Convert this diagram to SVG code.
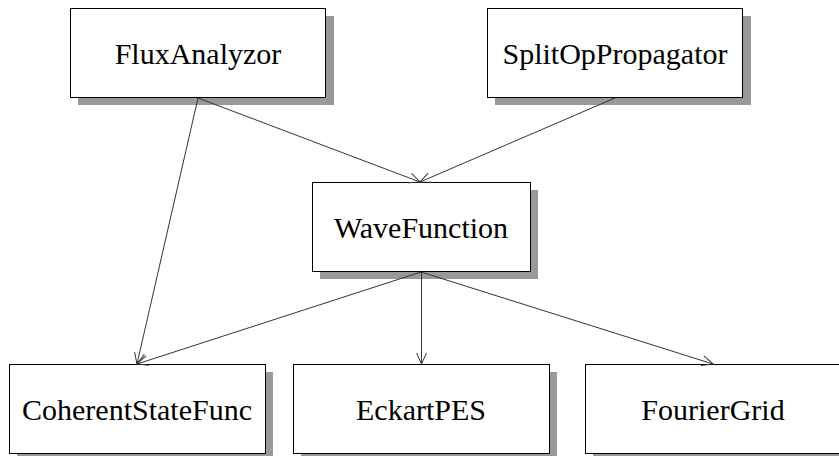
<svg xmlns="http://www.w3.org/2000/svg" width="839" height="456" viewBox="0 0 839 456">
<style>
.shadow{fill:#999999;stroke:none}
.box{fill:#ffffff;stroke:#000000;stroke-width:1}
.label{font-size:30px;fill:#000000;text-anchor:middle}
.edge{stroke:#333333;stroke-width:1;fill:none}
</style>
<defs>
<marker id="arrow" markerUnits="userSpaceOnUse" markerWidth="14" markerHeight="14" viewBox="-12 -7 14 14" refX="0" refY="0" orient="auto">
<path d="M-11,-5 L0,0 L-11,5" fill="none" stroke="#333333" stroke-width="1"/>
</marker>
</defs>
<g id="FluxAnalyzor">
<rect class="shadow" x="78" y="16" width="256" height="89"/>
<rect class="box" x="70.5" y="8.5" width="255" height="89"/>
<text class="label" font-family="'Liberation Serif', 'Times New Roman', serif" x="198" y="64">FluxAnalyzor</text>
</g>
<g id="SplitOpPropagator">
<rect class="shadow" x="495" y="16" width="256" height="89"/>
<rect class="box" x="487.5" y="8.5" width="255" height="89"/>
<text class="label" font-family="'Liberation Serif', 'Times New Roman', serif" x="615" y="64">SplitOpPropagator</text>
</g>
<g id="WaveFunction">
<rect class="shadow" x="320" y="190" width="218" height="89"/>
<rect class="box" x="312.5" y="182.5" width="218" height="89"/>
<text class="label" font-family="'Liberation Serif', 'Times New Roman', serif" x="421" y="238">WaveFunction</text>
</g>
<g id="CoherentStateFunc">
<rect class="shadow" x="17" y="372" width="256" height="89"/>
<rect class="box" x="9.5" y="364.5" width="256" height="89"/>
<text class="label" font-family="'Liberation Serif', 'Times New Roman', serif" x="137" y="420">CoherentStateFunc</text>
</g>
<g id="EckartPES">
<rect class="shadow" x="301" y="372" width="256" height="89"/>
<rect class="box" x="293.5" y="364.5" width="256" height="89"/>
<text class="label" font-family="'Liberation Serif', 'Times New Roman', serif" x="421" y="420">EckartPES</text>
</g>
<g id="FourierGrid">
<rect class="shadow" x="593" y="372" width="256" height="89"/>
<rect class="box" x="585.5" y="364.5" width="256" height="89"/>
<text class="label" font-family="'Liberation Serif', 'Times New Roman', serif" x="713" y="420">FourierGrid</text>
</g>
<g id="connectors">
<line class="edge" x1="198" y1="98" x2="420" y2="182" marker-end="url(#arrow)"/>
<line class="edge" x1="198" y1="98" x2="137" y2="364" marker-end="url(#arrow)"/>
<line class="edge" x1="615" y1="98" x2="420" y2="182" marker-end="url(#arrow)"/>
<line class="edge" x1="421" y1="272" x2="137" y2="364" marker-end="url(#arrow)"/>
<line class="edge" x1="421.5" y1="272" x2="421.5" y2="364" marker-end="url(#arrow)"/>
<line class="edge" x1="421" y1="272" x2="713" y2="364" marker-end="url(#arrow)"/>
</g>
</svg>
